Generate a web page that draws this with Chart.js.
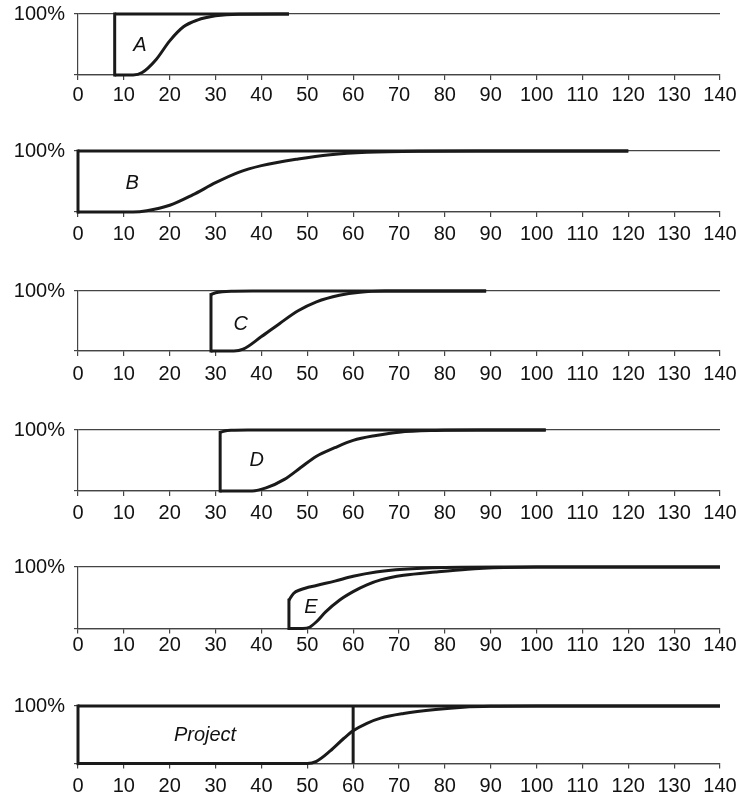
<!DOCTYPE html>
<html>
<head>
<meta charset="utf-8">
<title>Kurva kumulatif</title>
<script src="https://cdn.jsdelivr.net/npm/chart.js@4/dist/chart.umd.min.js"></script>
<style>
    body { margin: 0; background: #fff; }
    #wrap { position: relative; width: 746px; height: 801px; }
    .panel { position: absolute; left: 0; width: 746px; height: 110px; }
</style>
</head>
<body>
<div id="wrap"></div>
<script>
// =======================
// DATA
// =======================
const panelNames = ["A", "B", "C", "D", "E", "Project"];
const yTickLabel = "100%";
const xMin = 0, xMax = 140, xStep = 10;

// upper (start) curves: [x, %] - first two points are the vertical jump
const stepA = [[8, 0], [8, 100], [46, 100]];
const stepB = [[0, 0], [0, 100], [120, 100]];
const stepC = [[29, 0], [29, 94], [30, 97], [31.5, 98.8], [34, 99.6], [38, 100], [89, 100]];
const stepD = [[31, 0], [31, 96], [32, 98.5], [33.5, 99.6], [37, 100], [102, 100]];
const stepE = [[46, 0], [46, 46], [47, 57], [48.5, 63], [52, 70], [56, 77], [60, 85], [65, 92], [71, 96.5], [80, 99.3], [92, 100], [140, 100]];
const stepProject = [[0, 0], [0, 100], [140, 100]];

// lower (finish) curves: [x, %]
const curveA = [[8, 0], [12, 0], [14, 4], [17, 25], [20, 56], [23, 79], [26, 90], [30, 97], [35, 99.7], [46, 100]];
const curveB = [[0, 0], [12, 0], [15, 2], [20, 11], [25, 28], [30, 48], [35, 65], [40, 76], [48, 87], [55, 94], [63, 98], [75, 99.7], [90, 100], [120, 100]];
const curveC = [[29, 0], [34, 0], [36, 3], [40, 24], [44, 46], [48, 67], [52, 82], [57, 93], [61.5, 98], [67, 99.8], [75, 100], [89, 100]];
const curveD = [[31, 0], [38, 0], [41, 5], [45, 19], [48.5, 38], [52, 57], [56, 71], [60, 83], [65, 91], [70, 96.5], [78, 99.3], [88, 100], [102, 100]];
const curveE = [[46, 0], [49, 0], [50.5, 2], [52, 11], [54, 27], [57, 46], [60, 60], [63, 71], [66, 79], [71, 86.5], [78, 92], [85, 96.5], [93, 99], [100, 100], [140, 100]];
const curveProject = [[0, 0], [50, 0], [52, 4], [55, 22], [58, 44], [60, 57], [63, 70], [66, 79], [71, 87], [78, 94], [84, 98], [90, 99.6], [100, 100], [140, 100]];

// garis batas hari ke-60 pada proyek
const projectMarker = [[60, 0], [60, 100]];

const stepSeries = [stepA, stepB, stepC, stepD, stepE, stepProject];
const curveSeries = [curveA, curveB, curveC, curveD, curveE, curveProject];

// =======================
// LAYOUT
// =======================
const panelTops = [14, 150.7, 290.7, 429.5, 566.7, 705.7];
const areaHeights = [61, 61, 60, 61, 61.5, 57.6];
const labelGaps = [3.5, 5, 6, 5, 0, 6];   // jarak angka sumbu x per panel
const namePos = [[13.5, 49], [11.8, 47], [35.5, 45], [39, 50], [50.8, 34], [27.7, 49]];
const canvasH = 110, axisLeft = 78, padRight = 26;
const ink = "#1a1a1a", axisInk = "#444";

Chart.defaults.font.family = '"Liberation Sans", Arial, sans-serif';
Chart.defaults.font.size = 20;
Chart.defaults.color = "#111";

function toPoints(arr) {
    return arr.map(p => ({ x: p[0], y: p[1] }));
}

function lineSet(arr, smooth, cap) {
    return {
        data: toPoints(arr),
        borderColor: ink,
        borderWidth: 3,
        pointRadius: 0,
        tension: 0,
        cubicInterpolationMode: smooth ? "monotone" : "default",
        borderJoinStyle: "round",
        borderCapStyle: cap || "butt",
        clip: false
    };
}

// nama panel (A, B, ..., Project) ditulis miring di dalam area grafik
const nameLabel = {
    id: "nameLabel",
    afterDatasetsDraw(chart, args, opts) {
        const ctx = chart.ctx;
        const px = chart.scales.x.getPixelForValue(opts.at[0]);
        const py = chart.scales.y.getPixelForValue(opts.at[1]);
        ctx.save();
        ctx.font = 'italic 20px "Liberation Sans", Arial, sans-serif';
        ctx.fillStyle = "#111";
        ctx.textAlign = "center";
        ctx.textBaseline = "middle";
        ctx.fillText(opts.text, px, py);
        ctx.restore();
    }
};

function buildPanel(i) {
    const box = document.createElement("div");
    box.className = "panel";
    const canvas = document.createElement("canvas");
    box.appendChild(canvas);
    document.getElementById("wrap").appendChild(box);

    const step = stepSeries[i];
    const datasets = [
        lineSet(step.slice(0, 2), false, "square"),   // lompatan vertikal
        lineSet(step.slice(1), true),
        lineSet(curveSeries[i], true)
    ];
    if (panelNames[i] === "Project") datasets.push(lineSet(projectMarker, false));

    let axisH = 35;

    const chart = new Chart(canvas, {
        type: "line",
        data: { datasets: datasets },
        options: {
            responsive: true,
            maintainAspectRatio: false,
            animation: false,
            layout: { padding: { top: 0, right: padRight, left: 0, bottom: 0 } },
            plugins: {
                legend: { display: false },
                tooltip: { enabled: false },
                nameLabel: { text: panelNames[i], at: namePos[i] }
            },
            scales: {
                x: {
                    type: "linear",
                    min: xMin,
                    max: xMax,
                    ticks: { stepSize: xStep, padding: labelGaps[i], maxRotation: 0, autoSkip: false },
                    grid: { drawOnChartArea: false, tickLength: 5, color: axisInk, lineWidth: 1.2 },
                    border: { display: true, color: axisInk, width: 1.2 },
                    afterFit: s => { s.height = axisH; }
                },
                y: {
                    min: 0,
                    max: 100,
                    ticks: {
                        stepSize: 100,
                        padding: 9,
                        callback: v => (v === 100 ? yTickLabel : "")
                    },
                    grid: { drawOnChartArea: true, tickLength: 4, color: axisInk, lineWidth: 1.2 },
                    border: { display: true, color: axisInk, width: 1.2 },
                    afterFit: s => { s.width = axisLeft; }
                }
            }
        },
        plugins: [nameLabel]
    });

    // geser kanvas supaya garis 100% jatuh di posisi panel, lalu atur tinggi area
    const inset = chart.chartArea.top;
    box.style.top = (panelTops[i] - inset) + "px";
    axisH = canvasH - inset - areaHeights[i];
    chart.update();
}

document.addEventListener("DOMContentLoaded", function () {
    panelNames.forEach((n, i) => buildPanel(i));
});
</script>
</body>
</html>
